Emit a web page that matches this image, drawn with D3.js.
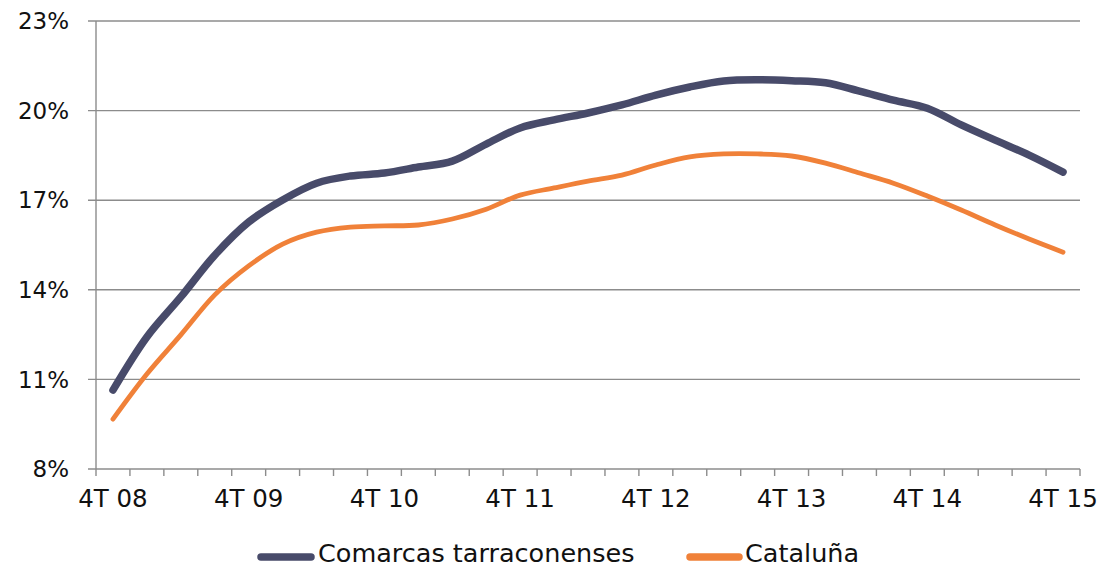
<!DOCTYPE html>
<html><head><meta charset="utf-8">
<script src="https://cdn.jsdelivr.net/npm/d3@7"></script>
<style>
html,body{margin:0;padding:0;background:#fff;}
svg text{font-family:"DejaVu Sans","Noto Sans",sans-serif;fill:#111;}
</style></head>
<body><svg id="c" width="1103" height="568"></svg>
<script>
const categories = ["4T 08","1T 09","2T 09","3T 09","4T 09","1T 10","2T 10","3T 10","4T 10","1T 11","2T 11","3T 11","4T 11","1T 12","2T 12","3T 12","4T 12","1T 13","2T 13","3T 13","4T 13","1T 14","2T 14","3T 14","4T 14","1T 15","2T 15","3T 15","4T 15"];
const comarcas = [10.64,12.42,13.76,15.16,16.27,17.01,17.57,17.81,17.91,18.11,18.31,18.88,19.42,19.69,19.92,20.19,20.52,20.79,20.99,21.03,21.00,20.93,20.65,20.35,20.08,19.52,19.01,18.51,17.94];
const cataluna = [9.67,11.18,12.49,13.83,14.80,15.53,15.93,16.10,16.14,16.17,16.37,16.70,17.17,17.41,17.64,17.84,18.18,18.45,18.55,18.55,18.48,18.24,17.91,17.57,17.14,16.67,16.17,15.70,15.26];
const yTicks = [8,11,14,17,20,23];
const seriesNames = ["Comarcas tarraconenses","Cataluña"];
const colors = ["#484b6a","#f08139"];

const svg = d3.select("#c");
const L=96, R=1080, T=21, B=469;
const x = d3.scaleBand().domain(categories).range([L,R]).paddingInner(0).paddingOuter(0);
const y = d3.scaleLinear().domain([8,23]).range([B,T]);

// gridlines
svg.append("g").selectAll("line").data(yTicks).join("line")
  .attr("x1",L-8).attr("x2",R).attr("y1",d=>y(d)).attr("y2",d=>y(d))
  .attr("stroke","#8c8c8c").attr("stroke-width",1.4);
// y labels
svg.append("g").selectAll("text").data(yTicks).join("text")
  .attr("x",69).attr("y",d=>y(d)).attr("dy","0.36em").attr("text-anchor","end")
  .attr("font-size",23).text(d=>d+"%");
// y axis line
svg.append("line").attr("x1",L).attr("x2",L).attr("y1",T).attr("y2",B)
  .attr("stroke","#8c8c8c").attr("stroke-width",1.4);
// x tick marks at category boundaries
const bounds = categories.map(c=>x(c)).concat([R]);
svg.append("g").selectAll("line").data(bounds).join("line")
  .attr("x1",d=>d).attr("x2",d=>d).attr("y1",B).attr("y2",B+7)
  .attr("stroke","#8c8c8c").attr("stroke-width",1.4);
// x labels every 4th
svg.append("g").selectAll("text").data(categories.filter((c,i)=>i%4===0)).join("text")
  .attr("x",d=>x(d)+x.bandwidth()/2).attr("y",498).attr("dy","0.36em")
  .attr("text-anchor","middle").attr("font-size",24.5).text(d=>d);

const line = d3.line().x((d,i)=>x(categories[i])+x.bandwidth()/2).y(d=>y(d)).curve(d3.curveCatmullRom.alpha(0.5));
svg.append("path").datum(cataluna).attr("d",line).attr("fill","none")
  .attr("stroke",colors[1]).attr("stroke-width",4.8).attr("stroke-linecap","round").attr("stroke-linejoin","round");
svg.append("path").datum(comarcas).attr("d",line).attr("fill","none")
  .attr("stroke",colors[0]).attr("stroke-width",7.5).attr("stroke-linecap","round").attr("stroke-linejoin","round");

// legend
const leg = [{n:seriesNames[0],c:colors[0],x1:261,x2:311,tx:318},{n:seriesNames[1],c:colors[1],x1:690,x2:739,tx:745}];
leg.forEach(l=>{
  svg.append("line").attr("x1",l.x1).attr("x2",l.x2).attr("y1",557).attr("y2",557)
    .attr("stroke",l.c).attr("stroke-width",7.5).attr("stroke-linecap","round");
  svg.append("text").attr("x",l.tx).attr("y",553).attr("dy","0.36em").attr("font-size",25.5).text(l.n);
});
</script></body></html>
